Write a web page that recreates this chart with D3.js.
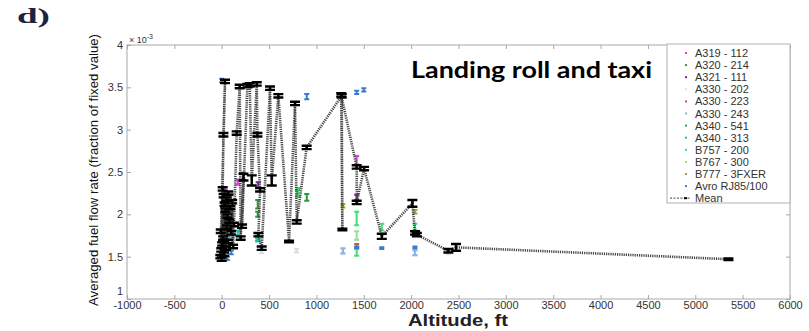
<!DOCTYPE html>
<html>
<head>
<meta charset="utf-8">
<script src="https://cdn.jsdelivr.net/npm/d3@7"></script>
<style>
  body { margin: 0; background: #fff; }
  svg { display: block; }
</style>
</head>
<body>
<svg id="chart" width="809" height="331"></svg>
<script>
// tick labels
const xTicks = [-1000, -500, 0, 500, 1000, 1500, 2000, 2500, 3000, 3500, 4000, 4500, 5000, 5500, 6000];
const yTicks = [1, 1.5, 2, 2.5, 3, 3.5, 4];

// aircraft series (values are x 10^-3)
const aircraft = ['A319 - 112', 'A320 - 214', 'A321 - 111', 'A330 - 202', 'A330 - 223', 'A330 - 243',
  'A340 - 541', 'A340 - 313', 'B757 - 200', 'B767 - 300', 'B777 - 3FXER', 'Avro RJ85/100'];
const palette = ['#e040d8', '#2a9a3a', '#7a1fa0', '#dcdce8', '#c0603a', '#8ab4e8',
  '#2aa87a', '#20c0b0', '#40e070', '#9ada9a', '#a0a040', '#3a7ad0'];

// [altitude ft, value, half error]
const a319 = [[30, 2.28, 0.04], [60, 2.05, 0.03], [170, 2.38, 0.03], [1425, 2.64, 0.05]];
const a320 = [[50, 1.68, 0.03], [100, 2.2, 0.04], [380, 2.12, 0.05], [380, 2.0, 0.03], [800, 2.25, 0.04], [898, 2.2, 0.04]];
const a321 = [[10, 2.05, 0.03], [60, 1.9, 0.03], [225, 2.45, 0.04], [385, 2.35, 0.03], [1425, 2.2, 0.03]];
const a330a = [[422, 1.57, 0.03], [790, 1.57, 0.02], [1280, 1.56, 0.03], [2040, 1.54, 0.03], [2393, 1.56, 0.03]];
const a330b = [[30, 2.15, 0.03], [60, 2.1, 0.03], [1425, 1.63, 0.02]];
const a330c = [[100, 1.7, 0.03], [1280, 1.57, 0.03], [2040, 1.55, 0.03]];
const a340a = [[40, 1.62, 0.03], [100, 1.78, 0.03], [380, 1.72, 0.03]];
const a340b = [[50, 1.58, 0.02], [170, 1.78, 0.03], [380, 1.7, 0.02]];
const b757 = [[810, 2.26, 0.05], [1425, 1.55, 0.04], [1425, 1.95, 0.08], [1690, 1.85, 0.04], [2040, 1.85, 0.04]];
const b767 = [[1425, 1.75, 0.05], [2040, 1.8, 0.02]];
const b777 = [[80, 2.2, 0.02], [1280, 2.1, 0.02], [2040, 2.03, 0.02]];
const avro = [[0, 3.58, 0.02], [60, 1.48, 0.02], [100, 1.55, 0.02], [898, 3.39, 0.03], [1425, 3.44, 0.02],
  [1500, 3.47, 0.02], [1425, 1.61, 0.01], [1690, 1.6, 0.01], [2040, 1.61, 0.01]];
const seriesPoints = [a319, a320, a321, a330a, a330b, a330c, a340a, a340b, b757, b767, b777, avro];

// mean, in drawing order
const meanAlt = [-15, 35, 18, 0, 10, -5, 20, 5, 30, 15, 40, 25, 50, -10, 60, 45, 70, 55, 80, 65, 90, 100, 110, 120, 130,
  158, 190, 200, 230, 215, 271, 296, 317, 370, 377, 405, 387, 422, 510, 528, 598, 711, 774, 792, 897,
  1267, 1274, 1262, 1425, 1425, 1503, 1690, 2013, 2041, 2060, 2393, 2474, 5350];
const meanVal = [1.50, 3.57, 2.94, 1.47, 2.30, 1.58, 2.22, 1.65, 2.12, 1.72, 2.05, 1.53, 2.18, 1.80, 1.98, 1.60, 2.25, 1.85, 1.92, 1.68, 2.08, 1.78, 2.15, 1.62, 1.88,
  2.96, 3.51, 1.72, 2.44, 1.86, 3.52, 3.53, 2.40, 3.54, 2.94, 2.29, 1.76, 1.60, 3.49, 2.40, 3.40, 1.68, 3.31, 1.91, 2.79,
  3.40, 1.82, 3.41, 2.56, 2.14, 2.54, 1.74, 2.13, 1.78, 1.76, 1.57, 1.61, 1.47];
const meanErr = [0.02, 0.02, 0.02, 0.02, 0.02, 0.02, 0.02, 0.02, 0.02, 0.02, 0.02, 0.02, 0.02, 0.02, 0.02, 0.02, 0.02, 0.02, 0.02, 0.02, 0.02, 0.02, 0.02, 0.02, 0.02,
  0.02, 0.02, 0.02, 0.04, 0.02, 0.02, 0.02, 0.06, 0.02, 0.02, 0.02, 0.02, 0.02, 0.02, 0.06, 0.02, 0.01, 0.02, 0.02, 0.02,
  0.02, 0.01, 0.02, 0.02, 0.02, 0.02, 0.03, 0.04, 0.02, 0.02, 0.02, 0.04, 0.01];

const svg = d3.select('#chart');
const x = d3.scaleLinear().domain([-1000, 6000]).range([127, 790]);
const y = d3.scaleLinear().domain([1, 4]).range([299, 45]);
const tickFont = '"Liberation Sans", Arial, sans-serif';

// axes box
svg.append('rect')
  .attr('x', x(-1000)).attr('y', y(4))
  .attr('width', x(6000) - x(-1000)).attr('height', y(1) - y(4))
  .attr('fill', 'none').attr('stroke', '#a8a8a8').attr('stroke-width', 1);

const styleAxis = g => {
  g.select('.domain').remove();
  g.selectAll('line').attr('stroke', '#a8a8a8');
  g.selectAll('text').attr('fill', '#333').style('font-family', tickFont).style('font-size', '11px');
};

svg.append('g').attr('transform', `translate(0,${y(1)})`)
  .call(d3.axisBottom(x).tickValues(xTicks).tickSizeInner(-4).tickSizeOuter(0).tickPadding(2).tickFormat(d => String(d)))
  .call(styleAxis);
svg.append('g').attr('transform', `translate(0,${y(4)})`)
  .call(d3.axisTop(x).tickValues(xTicks).tickSizeInner(-4).tickSizeOuter(0).tickFormat(''))
  .call(styleAxis);
svg.append('g').attr('transform', `translate(${x(-1000)},0)`)
  .call(d3.axisLeft(y).tickValues(yTicks).tickSizeInner(-4).tickSizeOuter(0).tickPadding(4).tickFormat(d => String(d)))
  .call(styleAxis)
  .selectAll('text').filter(d => d === 1).attr('dy', '-0.4em');
svg.append('g').attr('transform', `translate(${x(6000)},0)`)
  .call(d3.axisRight(y).tickValues(yTicks).tickSizeInner(-4).tickSizeOuter(0).tickFormat(''))
  .call(styleAxis);

// exponent
const expo = svg.append('text').attr('x', 129).attr('y', 43)
  .style('font-family', tickFont).style('font-size', '9px').attr('fill', '#333');
expo.append('tspan').text('× 10');
expo.append('tspan').attr('dy', -4).style('font-size', '7px').text('-3');

// error bar helper
function errBar(g, cx, cy, lo, hi, w, color, sw) {
  const p = `M${cx},${lo}V${hi}M${cx - w / 2},${lo}H${cx + w / 2}M${cx - w / 2},${hi}H${cx + w / 2}`;
  g.append('path').attr('d', p).attr('fill', 'none').attr('stroke', color).attr('stroke-width', sw);
}

// aircraft series
const sg = svg.append('g');
seriesPoints.forEach((pts, i) => {
  pts.forEach(p => {
    errBar(sg, x(p[0]), y(p[1]), y(p[1] - p[2]), y(p[1] + p[2]), 5, palette[i], 2);
  });
});

// mean line
const meanIdx = d3.range(meanAlt.length);
svg.append('path')
  .datum(meanIdx)
  .attr('d', d3.line().x(i => x(meanAlt[i])).y(i => y(meanVal[i])))
  .attr('fill', 'none').attr('stroke', '#444').attr('stroke-width', 2.6)
  .attr('stroke-dasharray', '1.2,1');

const mg = svg.append('g');
meanIdx.forEach(i => {
  errBar(mg, x(meanAlt[i]), y(meanVal[i]), y(meanVal[i] - meanErr[i]), y(meanVal[i] + meanErr[i]), 10, '#000', 2.4);
});

// legend
const lg = svg.append('g');
lg.append('rect').attr('x', 667).attr('y', 44).attr('width', 123).attr('height', 159)
  .attr('fill', '#fff').attr('stroke', '#b0b0b0').attr('stroke-width', 1);
const legendNames = aircraft.concat(['Mean']);
legendNames.forEach((name, i) => {
  const ly = 53 + i * 12.1;
  if (i < aircraft.length) {
    lg.append('rect').attr('x', 685).attr('y', ly - 1).attr('width', 2).attr('height', 2).attr('fill', palette[i]);
  } else {
    lg.append('line').attr('x1', 670).attr('x2', 690).attr('y1', ly).attr('y2', ly)
      .attr('stroke', '#666').attr('stroke-width', 1.2).attr('stroke-dasharray', '2,1.5');
    lg.append('rect').attr('x', 684).attr('y', ly - 1).attr('width', 3).attr('height', 2).attr('fill', '#000');
  }
  lg.append('text').attr('x', 695).attr('y', ly + 4).text(name)
    .style('font-family', tickFont).style('font-size', '11px').attr('fill', '#333');
});

// title
svg.append('text').attr('x', 411).attr('y', 78).text('Landing roll and taxi')
  .attr('textLength', 241).attr('lengthAdjust', 'spacingAndGlyphs')
  .style('font-family', 'Lato, "Open Sans", sans-serif').style('font-weight', 'bold')
  .style('font-size', '23px').attr('fill', '#000');

// axis labels
svg.append('text').attr('x', 458).attr('y', 326).attr('text-anchor', 'middle').text('Altitude, ft')
  .attr('textLength', 100).attr('lengthAdjust', 'spacingAndGlyphs')
  .style('font-family', tickFont).style('font-weight', 'bold').style('font-size', '16px').attr('fill', '#222');
svg.append('text').attr('transform', 'translate(98,170) rotate(-90)').attr('text-anchor', 'middle')
  .text('Averaged fuel flow rate (fraction of fixed value)')
  .attr('textLength', 272).attr('lengthAdjust', 'spacingAndGlyphs')
  .style('font-family', tickFont).style('font-size', '13.5px').attr('fill', '#111');

// panel tag
svg.append('text').attr('x', 17).attr('y', 23).text('d)')
  .attr('textLength', 33).attr('lengthAdjust', 'spacingAndGlyphs')
  .style('font-family', '"Liberation Serif", serif').style('font-weight', 'bold')
  .style('font-size', '21px').attr('fill', '#1b2340');
</script>
</body>
</html>
